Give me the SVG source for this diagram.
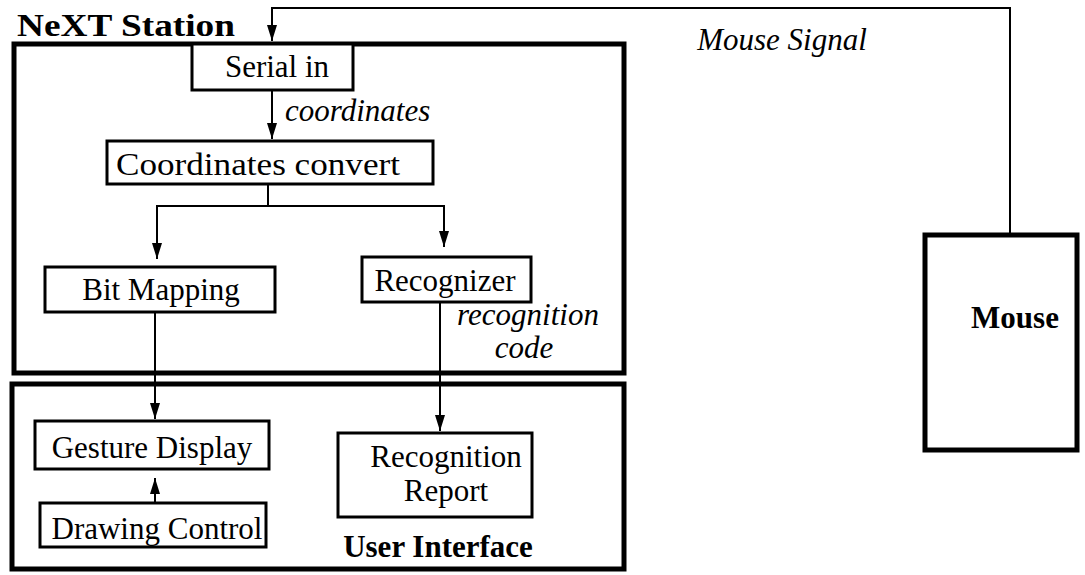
<svg xmlns="http://www.w3.org/2000/svg" width="1085" height="575" viewBox="0 0 1085 575">
<style>
.big{fill:none;stroke:#000;stroke-width:5}
.box{fill:#fff;stroke:#000;stroke-width:3}
.ln{fill:none;stroke:#000;stroke-width:2}
.t{font-family:'Liberation Serif','Times New Roman',serif;font-size:31px;fill:#000}
.i{font-style:italic}
.b{font-weight:bold}
</style>
<defs>
<marker id="ah" markerUnits="userSpaceOnUse" markerWidth="16" markerHeight="10" viewBox="0 0 16 10" refX="16" refY="5" orient="auto">
<path d="M0,0 L16,5 L0,10 z" fill="#000"/>
</marker>
</defs>
<rect width="1085" height="575" fill="#fff"/>

<g id="next-station">
<rect class="big" x="14" y="44" width="610" height="329"/>
<text class="t b" x="17" y="36" font-size="36" textLength="218" lengthAdjust="spacingAndGlyphs">NeXT Station</text>
</g>

<g id="user-interface">
<rect class="big" x="12" y="384" width="612" height="185"/>
<text class="t b" x="438" y="557" text-anchor="middle" font-size="31">User Interface</text>
</g>

<g id="mouse">
<rect class="big" x="925" y="235" width="152" height="215"/>
<text class="t b" x="1015" y="328" text-anchor="middle" font-size="32">Mouse</text>
</g>

<g id="serial-in">
<rect class="box" x="192" y="44" width="161" height="46"/>
<text class="t" x="277" y="77" text-anchor="middle" font-size="33">Serial in</text>
</g>

<g id="coordinates-convert">
<rect class="box" x="107" y="141" width="326" height="43"/>
<text class="t" x="116" y="175" font-size="34" textLength="284" lengthAdjust="spacingAndGlyphs">Coordinates convert</text>
</g>

<g id="bit-mapping">
<rect class="box" x="45" y="267" width="230" height="45"/>
<text class="t" x="161" y="300" text-anchor="middle">Bit Mapping</text>
</g>

<g id="recognizer">
<rect class="box" x="362" y="257" width="169" height="45"/>
<text class="t" x="445" y="291" text-anchor="middle">Recognizer</text>
</g>

<g id="gesture-display">
<rect class="box" x="35" y="421" width="234" height="48"/>
<text class="t" x="152" y="458" text-anchor="middle" font-size="33">Gesture Display</text>
</g>

<g id="drawing-control">
<rect class="box" x="40" y="503" width="226" height="44"/>
<text class="t" x="157" y="539" text-anchor="middle" font-size="30">Drawing Control</text>
</g>

<g id="recognition-report">
<rect class="box" x="338" y="433" width="194" height="84"/>
<text class="t" x="446" y="467" text-anchor="middle">Recognition</text>
<text class="t" x="446" y="501" text-anchor="middle">Report</text>
</g>

<g id="connectors">
<path class="ln" d="M1010,235 V8 H272 V41" marker-end="url(#ah)"/>
<path class="ln" d="M272,90 V139" marker-end="url(#ah)"/>
<path class="ln" d="M268,184 V206 H157 V259" marker-end="url(#ah)"/>
<path class="ln" d="M268,206 H444 V247" marker-end="url(#ah)"/>
<path class="ln" d="M155,312 V419" marker-end="url(#ah)"/>
<path class="ln" d="M440,302 V431" marker-end="url(#ah)"/>
<path class="ln" d="M155,503 V478" marker-end="url(#ah)"/>
<text class="t i" x="285" y="121" font-size="31">coordinates</text>
<text class="t i" x="782" y="50" text-anchor="middle" font-size="31">Mouse Signal</text>
<text class="t i" x="528" y="325" text-anchor="middle" font-size="31">recognition</text>
<text class="t i" x="524" y="358" text-anchor="middle" font-size="31">code</text>
</g>
</svg>
